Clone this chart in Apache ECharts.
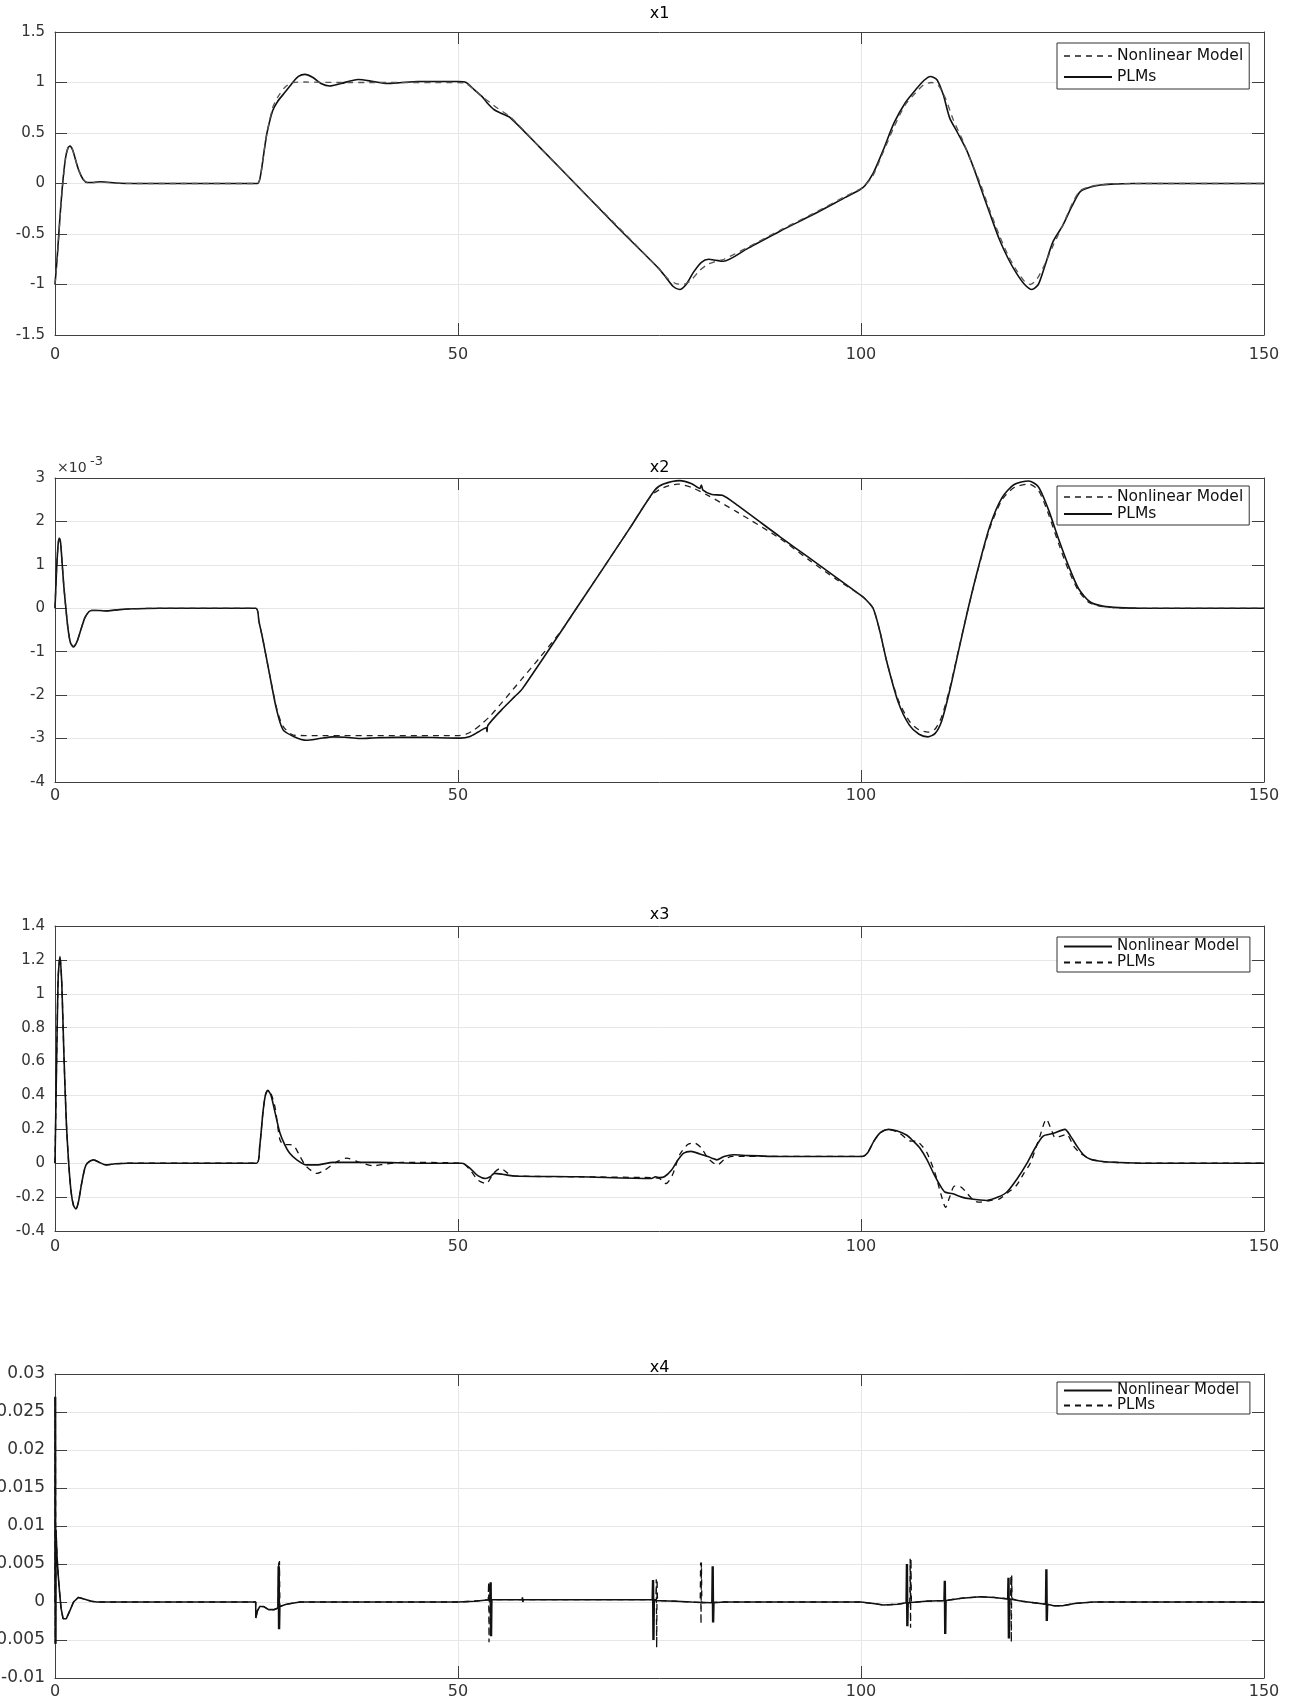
<!DOCTYPE html>
<html>
<head>
<meta charset="utf-8">
<script src="https://cdn.jsdelivr.net/npm/echarts@6/dist/echarts.min.js"></script>
<style>html,body{margin:0;padding:0;background:#fff;}#c{width:1290px;height:1700px;}</style>
</head>
<body>
<div id="c"></div>
<script>
// ---------- tick values ----------
const xTicks = [0, 50, 100, 150];
const x1YTicks = [-1.5, -1, -0.5, 0, 0.5, 1, 1.5];
const x2YTicks = [-4, -3, -2, -1, 0, 1, 2, 3];          // ×10^-3
const x3YTicks = [-0.4, -0.2, 0, 0.2, 0.4, 0.6, 0.8, 1, 1.2, 1.4];
const x4YTicks = [-0.01, -0.005, 0, 0.005, 0.01, 0.015, 0.02, 0.025, 0.03];

const panelTitles = ['x1', 'x2', 'x3', 'x4'];
const legendNames = ['Nonlinear Model', 'PLMs'];

// ---------- x1 ----------
const x1Nonlinear = [[0,-1],[0.3,-0.72],[0.6,-0.37],[0.95,-0.02],[1.3,0.24],[1.6,0.35],[1.9,0.37],[2.2,0.33],[2.6,0.22],[3,0.12],[3.5,0.04],[4,0.01],[4.8,0.01],[5.6,0.015],[6.5,0.01],[8,0.003],[10,0],[25.1,0],[25.5,0.08],[26,0.35],[26.3,0.5],[27,0.75],[27.6,0.85],[28.5,0.95],[29.5,1.0],[31,1.005],[35,1.0],[40,1.0],[50,1.0],[51,0.99],[52,0.93],[53,0.86],[54,0.8],[55,0.74],[56.5,0.66],[60,0.37],[65,-0.04],[70,-0.44],[75,-0.85],[76,-0.94],[77,-0.99],[78,-1.0],[79,-0.95],[80,-0.86],[81,-0.8],[82,-0.77],[83,-0.75],[86,-0.63],[90,-0.46],[94,-0.3],[98,-0.13],[100,-0.05],[100.5,-0.02],[101.5,0.08],[102.7,0.3],[104.1,0.56],[105.5,0.78],[106.8,0.9],[107.8,0.98],[108.8,1.0],[109.6,0.97],[110.5,0.84],[111.5,0.62],[112.5,0.45],[113.5,0.25],[114.8,0],[116,-0.27],[117.2,-0.52],[118.3,-0.72],[119.3,-0.86],[120.3,-0.97],[121,-1.0],[121.8,-0.95],[122.8,-0.8],[123.8,-0.62],[125,-0.42],[126.2,-0.2],[127.2,-0.07],[128.5,-0.03],[129.7,-0.013],[131,-0.005],[135,0],[150,0]];
const x1PLMs = [[0,-1],[0.3,-0.7],[0.6,-0.35],[0.95,0],[1.3,0.25],[1.6,0.35],[1.86,0.37],[2.2,0.33],[2.6,0.22],[3,0.12],[3.5,0.04],[4,0.01],[4.8,0.01],[5.6,0.018],[6.5,0.012],[8,0.003],[10,0],[25.1,0],[25.5,0.08],[26,0.35],[26.3,0.5],[27,0.72],[27.6,0.81],[28.5,0.9],[29.5,1.0],[30.2,1.06],[31,1.08],[32,1.05],[33,0.99],[34.1,0.965],[35.5,0.99],[37.6,1.03],[39.5,1.01],[41.2,0.99],[43,1.0],[45,1.01],[47,1.01],[50,1.01],[51,1.0],[52,0.93],[53,0.86],[53.6,0.8],[54.5,0.73],[55.5,0.69],[56.5,0.65],[60,0.37],[65,-0.04],[70,-0.45],[74.9,-0.84],[75.8,-0.93],[76.7,-1.02],[77.5,-1.05],[78.3,-1.0],[79.2,-0.88],[80.2,-0.78],[81.1,-0.75],[82,-0.76],[82.9,-0.77],[86,-0.64],[90,-0.47],[94,-0.31],[98,-0.14],[99.9,-0.06],[100.5,-0.02],[101.5,0.1],[102.7,0.32],[104.1,0.6],[105.5,0.8],[106.8,0.93],[107.8,1.02],[108.6,1.06],[109.4,1.03],[110.2,0.88],[111,0.65],[112,0.5],[113.1,0.33],[114,0.15],[114.8,-0.03],[116,-0.3],[117.2,-0.56],[118.3,-0.75],[119.3,-0.89],[120.3,-1.0],[121.2,-1.05],[122,-1.0],[122.8,-0.82],[123.8,-0.58],[125,-0.42],[126.2,-0.22],[127.2,-0.08],[128.5,-0.035],[129.7,-0.015],[131,-0.006],[132.5,-0.002],[135,0],[150,0]];

// ---------- x2 (values in units of 10^-3) ----------
const x2Nonlinear = [[0,0],[0.2,0.9],[0.4,1.5],[0.54,1.6],[0.7,1.5],[0.9,1.0],[1.1,0.5],[1.35,0],[1.6,-0.45],[1.9,-0.78],[2.27,-0.88],[2.7,-0.78],[3.2,-0.5],[3.7,-0.22],[4.2,-0.08],[4.55,-0.05],[5.5,-0.05],[6.5,-0.06],[8,-0.03],[10,-0.01],[13,0],[24.9,0],[25.3,-0.3],[25.8,-0.73],[26.6,-1.5],[27.5,-2.3],[28.3,-2.72],[29.6,-2.92],[31,-2.93],[50,-2.93],[51,-2.9],[52,-2.8],[53,-2.65],[54,-2.48],[56,-2.05],[58,-1.61],[60,-1.17],[63,-0.47],[64.7,0],[71.3,1.84],[74,2.6],[75.5,2.78],[77.3,2.86],[79,2.78],[81,2.6],[84.6,2.22],[90,1.6],[93.5,1.12],[97,0.66],[99.9,0.31],[100.5,0.22],[101.5,0],[102.3,-0.5],[103.2,-1.23],[104.6,-2.1],[106,-2.6],[107.2,-2.8],[108.3,-2.85],[109.2,-2.78],[110,-2.5],[111,-1.85],[112.2,-0.88],[113.3,0],[114.5,0.88],[116,1.85],[117.5,2.5],[119,2.78],[120.8,2.86],[122,2.72],[123.2,2.2],[124.5,1.5],[125.7,0.9],[127,0.4],[128.4,0.12],[130,0.04],[132,0.01],[135,0],[150,0]];
const x2PLMs = [[0,0],[0.2,0.9],[0.4,1.5],[0.54,1.61],[0.7,1.5],[0.9,1.0],[1.1,0.5],[1.35,0],[1.6,-0.45],[1.9,-0.78],[2.27,-0.89],[2.7,-0.78],[3.2,-0.5],[3.7,-0.22],[4.2,-0.08],[4.55,-0.05],[5.5,-0.05],[6.5,-0.06],[8,-0.03],[10,-0.01],[13,0],[24.9,0],[25.3,-0.3],[25.8,-0.73],[26.6,-1.5],[27.5,-2.34],[28.3,-2.8],[29.6,-2.95],[31.2,-3.04],[32.8,-3.0],[34.5,-2.96],[36,-2.97],[37.8,-3.0],[40,-2.98],[45,-2.97],[50.3,-2.99],[51.5,-2.95],[52.5,-2.85],[53.5,-2.75],[53.6,-2.84],[53.7,-2.7],[55.4,-2.34],[57,-2.04],[58,-1.85],[64.7,0],[71.3,1.84],[74.4,2.72],[75.5,2.86],[77.5,2.94],[79,2.87],[80,2.76],[80.2,2.84],[80.4,2.72],[81.5,2.62],[82.8,2.6],[84.6,2.38],[90,1.64],[93.5,1.17],[97,0.7],[99.9,0.31],[100.5,0.22],[101.5,0],[102.3,-0.5],[103.2,-1.23],[104.6,-2.15],[106,-2.69],[107.2,-2.9],[108.3,-2.96],[109.2,-2.88],[110,-2.6],[111,-1.9],[112.2,-0.9],[113.3,0],[114.5,0.9],[116,1.9],[117.5,2.55],[119,2.85],[120.8,2.93],[122,2.8],[123.2,2.3],[124.5,1.6],[125.7,1.0],[127,0.45],[128.4,0.15],[130,0.05],[132,0.015],[135,0],[150,0]];

// ---------- x3 ----------
const x3Nonlinear = [[0,0],[0.2,0.6],[0.4,1.1],[0.62,1.22],[0.85,1.05],[1.1,0.65],[1.4,0.25],[1.7,0],[2,-0.17],[2.3,-0.25],[2.6,-0.27],[2.9,-0.23],[3.3,-0.12],[3.7,-0.03],[4,0],[4.8,0.02],[5.5,0.005],[6.3,-0.01],[7.5,-0.003],[9,0],[25,0],[25.4,0.1],[25.8,0.3],[26.1,0.4],[26.4,0.43],[26.8,0.4],[27.3,0.3],[27.9,0.18],[28.5,0.11],[29.1,0.06],[30,0.02],[31.2,-0.01],[32.5,-0.01],[34.5,0.005],[40,0.005],[45,0],[50.5,0],[51.5,-0.03],[52.5,-0.075],[53.4,-0.09],[54,-0.08],[54.5,-0.06],[55.5,-0.065],[56.9,-0.075],[65,-0.08],[74,-0.09],[74.5,-0.08],[75,-0.085],[75.6,-0.08],[76.5,-0.04],[77.3,0.02],[78,0.06],[78.9,0.07],[80,0.055],[81,0.04],[81.5,0.03],[82.1,0.02],[83,0.04],[84.2,0.05],[86,0.045],[90,0.04],[100.2,0.04],[100.8,0.06],[101.6,0.13],[102.4,0.18],[103.4,0.2],[104.5,0.19],[105.7,0.165],[106.5,0.13],[107.3,0.09],[108.2,0.02],[109,-0.06],[109.8,-0.13],[110.4,-0.17],[111.4,-0.18],[112.5,-0.2],[113.5,-0.21],[115.6,-0.22],[117,-0.2],[118.1,-0.17],[119.4,-0.09],[120.6,0],[121.6,0.09],[122.6,0.16],[123.8,0.175],[125.3,0.2],[126,0.16],[126.8,0.1],[127.6,0.05],[128.4,0.025],[130,0.01],[131.8,0.005],[135,0],[150,0]];
const x3PLMs = [[0,0],[0.2,0.6],[0.4,1.1],[0.62,1.22],[0.85,1.05],[1.1,0.65],[1.4,0.25],[1.7,0],[2,-0.17],[2.3,-0.25],[2.6,-0.27],[2.9,-0.23],[3.3,-0.12],[3.7,-0.03],[4,0],[4.8,0.02],[5.5,0.005],[6.3,-0.01],[7.5,-0.003],[9,0],[25,0],[25.4,0.1],[25.8,0.3],[26.1,0.4],[26.4,0.43],[26.8,0.41],[27.3,0.33],[27.9,0.14],[28.4,0.11],[29.1,0.11],[29.7,0.1],[30.4,0.04],[31.2,-0.02],[32.5,-0.06],[33.5,-0.04],[35,0.01],[36.2,0.03],[37.5,0.01],[39.5,-0.015],[41,-0.005],[43,0.005],[50.5,0],[51.5,-0.04],[52.5,-0.1],[53.5,-0.12],[54.4,-0.06],[55.3,-0.03],[56.2,-0.06],[57,-0.075],[65,-0.08],[74,-0.085],[75,-0.09],[75.8,-0.12],[76.6,-0.07],[77.5,0.05],[78.5,0.11],[79.3,0.12],[80.2,0.09],[81,0.03],[82.2,-0.01],[83,0.02],[84,0.04],[86,0.04],[90,0.04],[100.2,0.04],[100.8,0.06],[101.6,0.13],[102.4,0.18],[103.4,0.2],[104.7,0.18],[105.5,0.15],[106.2,0.13],[106.9,0.13],[107.6,0.1],[108.2,0.06],[109.2,-0.06],[109.9,-0.18],[110.5,-0.26],[111,-0.2],[111.6,-0.135],[112.4,-0.14],[113.2,-0.18],[114,-0.22],[114.7,-0.23],[116,-0.22],[117.2,-0.21],[118.3,-0.17],[119.3,-0.13],[120.2,-0.06],[121,0],[122.2,0.16],[123,0.26],[123.6,0.2],[124.1,0.15],[124.8,0.16],[125.5,0.17],[126.4,0.1],[127.2,0.06],[128.4,0.025],[130,0.01],[132,0.004],[135,0],[150,0]];

// ---------- x4 ----------
const x4Nonlinear = [[0,0],[0,0.027],[0.03,-0.0055],[0.06,0.027],[0.09,-0.0055],[0.12,0.0095],[0.25,0.006],[0.4,0.0035],[0.55,0.0015],[0.75,-0.0008],[1,-0.0022],[1.4,-0.0022],[1.9,-0.001],[2.3,0],[2.9,0.0006],[3.6,0.0004],[4.5,0.0001],[5.2,0],[24.9,0],[24.92,-0.0021],[25.1,-0.0012],[25.4,-0.0006],[25.9,-0.0006],[26.5,-0.001],[27.2,-0.001],[27.65,-0.0008],[27.7,0.0047],[27.75,-0.0036],[27.8,0.0047],[27.85,-0.0036],[27.9,-0.0006],[28.7,-0.0003],[30.4,0],[50,0],[52,0.0001],[53.95,0.0003],[54,0.0026],[54.05,-0.0045],[54.1,0.0026],[54.15,-0.0045],[54.2,0.0003],[57.95,0.0003],[58,0.0006],[58.05,0],[58.1,0.0003],[74.1,0.0003],[74.15,0.0029],[74.2,-0.005],[74.25,0.0029],[74.3,-0.005],[74.35,0.0002],[77,0.0001],[79,0],[81.5,-0.0001],[81.55,0.0047],[81.6,-0.0027],[81.65,0.0047],[81.7,-0.0027],[81.75,-0.0001],[83,0],[100,0],[101.5,-0.0002],[102.8,-0.0004],[104.5,-0.0003],[105.6,-0.0001],[105.65,0.005],[105.7,-0.0032],[105.75,0.005],[105.8,-0.0032],[105.85,-0.0001],[108,0.0001],[110.3,0.0002],[110.35,0.0028],[110.4,-0.0042],[110.45,0.0028],[110.5,-0.0042],[110.55,0.0002],[112.5,0.0005],[114.8,0.0007],[116.5,0.0006],[118.2,0.0004],[118.25,0.0032],[118.3,-0.0048],[118.35,0.0032],[118.4,-0.0048],[118.45,0.0004],[120,0.0001],[122.9,-0.0003],[122.95,0.0043],[123,-0.0025],[123.05,0.0043],[123.1,-0.0025],[123.15,-0.0003],[123.9,-0.0005],[125,-0.0005],[126.5,-0.0002],[128.8,0],[150,0]];
const x4PLMs = [[0,0],[0,0.027],[0.03,-0.0055],[0.06,0.027],[0.09,-0.0055],[0.12,0.0095],[0.25,0.006],[0.4,0.0035],[0.55,0.0015],[0.75,-0.0008],[1,-0.0022],[1.4,-0.0022],[1.9,-0.001],[2.3,0],[2.9,0.0006],[3.6,0.0004],[4.5,0.0001],[5.2,0],[24.9,0],[24.92,-0.0021],[25.1,-0.0012],[25.4,-0.0006],[25.9,-0.0006],[26.5,-0.001],[27.2,-0.001],[27.7,-0.0008],[27.75,0.0054],[27.8,-0.0035],[27.85,0.0054],[27.9,-0.0006],[28.7,-0.0003],[30.4,0],[50,0],[52,0.0001],[53.75,0.0003],[53.8,0.0026],[53.85,-0.0053],[53.9,0.0026],[53.95,0.0003],[74,0.0003],[74.55,0.0003],[74.6,0.003],[74.65,-0.006],[74.7,0.003],[74.75,0.0002],[77,0.0001],[79,0],[80.05,-0.0001],[80.1,0.0052],[80.15,-0.0029],[80.2,0.0052],[80.25,-0.0001],[83,0],[100,0],[101.5,-0.0002],[102.8,-0.0004],[104.5,-0.0003],[106.05,-0.0001],[106.1,0.0057],[106.15,-0.0034],[106.2,0.0057],[106.25,-0.0001],[108,0.0001],[110.4,0.0002],[112.5,0.0005],[114.8,0.0007],[116.5,0.0006],[118.55,0.0004],[118.6,0.0035],[118.65,-0.0053],[118.7,0.0035],[118.75,0.0004],[120,0.0001],[123,-0.0003],[123.9,-0.0005],[125,-0.0005],[126.5,-0.0002],[128.8,0],[150,0]];

// ---------- layout ----------
const FONT = '"DejaVu Sans", "Liberation Sans", Arial, sans-serif';
const AXC = '#404040';
const panels = [
  {top: 32,   height: 303, ticks: x1YTicks, nl: x1Nonlinear, plm: x1PLMs, nlDashed: true,  nlColor: '#555', smooth: 0.25,
   titleTop: 6, legend: {top: 43, font: 15.5, gap: 5, pad: [5, 6, 4, 6]}, xMargin: 12, yFont: 15},
  {top: 478,  height: 304, ticks: x2YTicks, nl: x2Nonlinear, plm: x2PLMs, nlDashed: true,  nlColor: '#222', smooth: 0.25,
   titleTop: 460, legend: {top: 486, font: 15.5, gap: 1, pad: [3, 6, 3, 6]}, xMargin: 6, yFont: 15},
  {top: 926,  height: 305, ticks: x3YTicks, nl: x3Nonlinear, plm: x3PLMs, nlDashed: false, nlColor: '#111', smooth: 0.25,
   titleTop: 907, legend: {top: 937, font: 15, gap: 1, pad: [2, 6, 2, 6]}, xMargin: 8, yFont: 15},
  {top: 1374, height: 304, ticks: x4YTicks, nl: x4Nonlinear, plm: x4PLMs, nlDashed: false, nlColor: '#111', smooth: false,
   titleTop: 1360, legend: {top: 1382, font: 15, gap: 0, pad: [1, 6, 1, 6]}, xMargin: 6, yFont: 17}
];

const grids = [], xAxes = [], yAxes = [], series = [], legends = [], titles = [];
panels.forEach((p, i) => {
  grids.push({left: 55, right: 26, top: p.top, height: p.height, containLabel: false, outerBoundsMode: 'none'});
  const tickStyle = {inside: true, length: 12, lineStyle: {color: AXC, width: 1}};
  const lineStyle = {show: true, onZero: false, lineStyle: {color: AXC, width: 1}};
  xAxes.push({type: 'value', gridIndex: i, min: xTicks[0], max: xTicks[xTicks.length - 1], interval: xTicks[1] - xTicks[0],
    axisLine: lineStyle, axisTick: tickStyle,
    axisLabel: {color: '#333', fontSize: 16, fontFamily: FONT, margin: p.xMargin},
    splitLine: {show: true, lineStyle: {color: '#e6e6e6', width: 1}}});
  xAxes.push({type: 'value', gridIndex: i, position: 'top', min: xTicks[0], max: xTicks[xTicks.length - 1], interval: xTicks[1] - xTicks[0],
    axisLine: lineStyle, axisTick: tickStyle, axisLabel: {show: false}, splitLine: {show: false}});
  const yMin = p.ticks[0], yMax = p.ticks[p.ticks.length - 1], yInt = p.ticks[1] - p.ticks[0];
  yAxes.push({type: 'value', gridIndex: i, min: yMin, max: yMax, interval: yInt,
    axisLine: lineStyle, axisTick: tickStyle,
    axisLabel: {color: '#333', fontSize: p.yFont, fontFamily: FONT, margin: 10},
    splitLine: {show: true, lineStyle: {color: '#e6e6e6', width: 1}}});
  yAxes.push({type: 'value', gridIndex: i, position: 'right', min: yMin, max: yMax, interval: yInt,
    axisLine: lineStyle, axisTick: tickStyle, axisLabel: {show: false}, splitLine: {show: false}});

  const suffix = i >= 2 ? ' ' : '';
  const nlName = legendNames[0] + suffix, plmName = legendNames[1] + suffix;
  const dash = [6, 5];
  series.push({name: nlName, type: 'line', xAxisIndex: i * 2, yAxisIndex: i * 2, data: p.nl,
    symbol: 'none', showSymbol: false, smooth: p.smooth, clip: true,
    lineStyle: {color: p.nlColor, width: p.nlDashed ? 1.3 : 1.6, type: p.nlDashed ? dash : 'solid'},
    itemStyle: {color: p.nlColor}, z: p.nlDashed ? 3 : 2});
  series.push({name: plmName, type: 'line', xAxisIndex: i * 2, yAxisIndex: i * 2, data: p.plm,
    symbol: 'none', showSymbol: false, smooth: p.smooth, clip: true,
    lineStyle: {color: '#111', width: p.nlDashed ? 1.6 : 1.3, type: p.nlDashed ? 'solid' : dash},
    itemStyle: {color: '#111'}, z: p.nlDashed ? 2 : 3});

  legends.push({orient: 'vertical', left: 1057, top: p.legend.top, data: [nlName, plmName],
    itemWidth: 48, itemHeight: 10, itemGap: p.legend.gap, padding: p.legend.pad,
    borderColor: '#333', borderWidth: 1, backgroundColor: '#fff', selectedMode: false,
    itemStyle: {opacity: 0},
    textStyle: {fontSize: p.legend.font, color: '#111', fontFamily: FONT}});

  titles.push({text: panelTitles[i], left: 659.5, top: p.titleTop, textAlign: 'center', padding: 0,
    textStyle: {fontSize: 16, fontWeight: 'normal', color: '#000', fontFamily: FONT}});
});

const chart = echarts.init(document.getElementById('c'), null, {renderer: 'canvas'});
chart.setOption({
  backgroundColor: '#fff',
  animation: false,
  title: titles,
  grid: grids,
  xAxis: xAxes,
  yAxis: yAxes,
  legend: legends,
  series: series,
  graphic: [
    {type: 'text', left: 57, top: 461, style: {text: '×10', fontSize: 14, fill: '#333', fontFamily: FONT}},
    {type: 'text', left: 90, top: 455, style: {text: '-3', fontSize: 13, fill: '#333', fontFamily: FONT}}
  ]
});
</script>
</body>
</html>
